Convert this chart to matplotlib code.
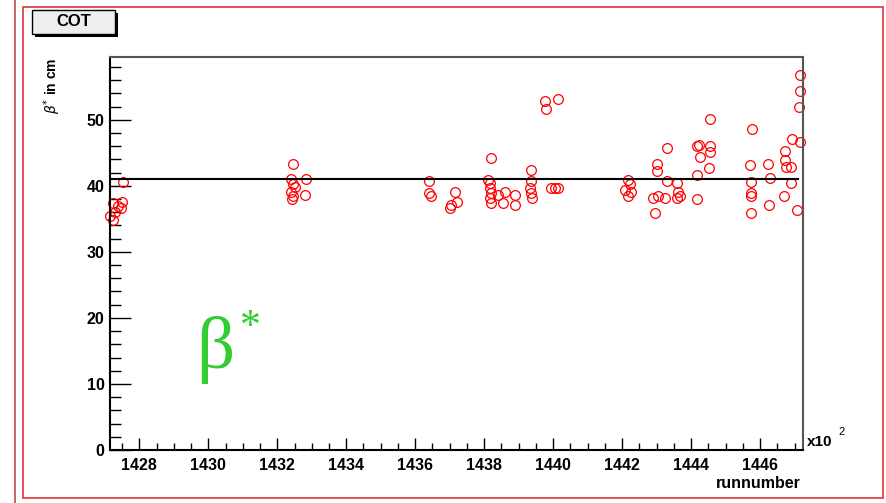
import matplotlib.pyplot as plt
import numpy as np
from matplotlib.patches import Rectangle
from matplotlib.ticker import MultipleLocator

# run number (in units of 100) and beta* in cm
run = [1427.52, 1427.49, 1427.25, 1427.46, 1427.30, 1427.39, 1427.15, 1427.25,
       1432.47, 1432.39, 1432.83, 1432.45, 1432.51, 1432.39, 1432.46, 1432.80, 1432.42,
       1436.41, 1436.41, 1436.45,
       1437.15, 1437.20, 1437.00, 1437.05,
       1438.21, 1438.12, 1438.17, 1438.17, 1438.21, 1438.17, 1438.21, 1438.41,
       1438.60, 1438.55, 1438.89, 1438.89,
       1439.35, 1439.35, 1439.33, 1439.35, 1439.38,
       1439.95, 1440.05, 1440.15, 1439.76, 1440.15, 1439.79,
       1442.17, 1442.22, 1442.08, 1442.17, 1442.25,
       1442.95, 1442.90, 1443.04, 1443.01, 1443.01, 1443.29, 1443.29, 1443.24,
       1443.60, 1443.62, 1443.58, 1443.67,
       1444.17, 1444.23, 1444.25, 1444.17, 1444.17, 1444.54, 1444.54, 1444.52, 1444.54,
       1445.77, 1445.70, 1445.73, 1445.75, 1445.75, 1445.73,
       1446.23, 1446.28, 1446.26,
       1447.15, 1447.15, 1447.12, 1447.15, 1446.94, 1446.72, 1446.72, 1446.75,
       1446.91, 1446.91, 1446.69, 1447.08]
beta = [40.6, 37.6, 37.4, 36.6, 36.1, 36.9, 35.4, 34.8,
        43.3, 41.1, 41.1, 40.3, 39.8, 39.1, 38.4, 38.6, 38.0,
        40.7, 38.9, 38.4,
        39.0, 37.6, 36.6, 37.1,
        44.2, 40.9, 40.4, 39.6, 38.9, 38.1, 37.4, 38.6,
        39.1, 37.4, 38.6, 37.1,
        42.4, 40.7, 39.6, 38.9, 38.1,
        39.6, 39.7, 39.6, 52.8, 53.1, 51.7,
        40.9, 40.2, 39.4, 38.4, 39.1,
        35.9, 38.1, 38.4, 43.3, 42.2, 45.7, 40.7, 38.1,
        40.4, 39.1, 38.1, 38.4,
        46.0, 46.2, 44.4, 41.7, 38.0, 46.0, 45.1, 42.7, 50.1,
        48.6, 43.1, 40.5, 38.9, 38.4, 35.9,
        43.3, 41.2, 37.1,
        56.8, 54.3, 52.0, 46.6, 47.1, 45.2, 43.9, 42.9,
        42.9, 40.4, 38.5, 36.4]
fit_mean = 41.0
xticks = [1428, 1430, 1432, 1434, 1436, 1438, 1440, 1442, 1444, 1446]
yticks = [0, 10, 20, 30, 40, 50]

W, H = 886, 503
fig = plt.figure(figsize=(W / 100, H / 100), dpi=100)
plt.rcParams['font.family'] = ['Liberation Sans', 'DejaVu Sans']

def fx(px):
    return px / W

def fy(py):
    return 1 - py / H

# canvas / pad frames
fig.add_artist(Rectangle((fx(15), 0), 0, 1, transform=fig.transFigure,
                         fill=False, ec='#c04a4a', lw=1.2))
fig.add_artist(Rectangle((fx(22.5), fy(497.5)), fx(883) - fx(22.5), fy(7) - fy(497.5),
                         transform=fig.transFigure, fill=False, ec='#e03535', lw=1.2))

ax = fig.add_axes([fx(110), fy(450), fx(802.5) - fx(110), fy(57) - fy(450)])
ax.plot(run, beta, 'o', mfc='none', mec='red', ms=7, mew=0.9, clip_on=False)
ax.plot([1427.15, 1447.1], [fit_mean, fit_mean], color='black', lw=1.5)

ax.set_xlim(1427.15, 1447.23)
ax.set_ylim(0, 59.5)
ax.set_xticks(xticks)
ax.set_yticks(yticks)
ax.xaxis.set_minor_locator(MultipleLocator(0.5))
ax.yaxis.set_minor_locator(MultipleLocator(2))
ax.tick_params(axis='x', which='major', direction='in', length=9, width=1.0,
               labelsize=11.5, pad=6)
ax.tick_params(axis='x', which='minor', direction='in', length=5, width=1.0)
ax.tick_params(axis='y', which='major', direction='in', length=15, width=1.0,
               labelsize=11.5, pad=4)
ax.tick_params(axis='y', which='minor', direction='in', length=8, width=1.0)
for lab in ax.get_xticklabels() + ax.get_yticklabels():
    lab.set_fontweight('bold')
for s in ['left', 'bottom']:
    ax.spines[s].set_linewidth(1.5)
for s in ['top', 'right']:
    ax.spines[s].set_linewidth(1.5)
    ax.spines[s].set_color('#555555')

# axis titles
fig.text(fx(52), fy(58), r'$\beta^{*}$ in cm', rotation=90, ha='center', va='top',
         fontsize=10, fontweight='bold')
fig.text(fx(801), fy(483), 'runnumber', ha='right', va='center',
         fontsize=11.5, fontweight='bold')
fig.text(fx(807), fy(442), 'x10', ha='left', va='center', fontsize=11, fontweight='bold')
fig.text(fx(838), fy(432), '2', ha='left', va='center', fontsize=8)

# green label
fig.text(fx(215), fy(350), 'β', color='#33cc33', fontsize=54,
         family='Liberation Serif', ha='center', va='center')
fig.text(fx(250), fy(328), '*', color='#33cc33', fontsize=30,
         family='Liberation Serif', ha='center', va='center')

# title box
fig.add_artist(Rectangle((fx(35), fy(37)), fx(115) - fx(32), fy(13) - fy(37),
                         transform=fig.transFigure, fc='black', ec='black', lw=0))
fig.add_artist(Rectangle((fx(32), fy(34)), fx(115) - fx(32), fy(10) - fy(34),
                         transform=fig.transFigure, fc='#eeeeee', ec='black', lw=1.0))
fig.text(fx(73.5), fy(22), 'COT', ha='center', va='center', fontsize=12, fontweight='bold')

fig.savefig('out.png', dpi=100)
